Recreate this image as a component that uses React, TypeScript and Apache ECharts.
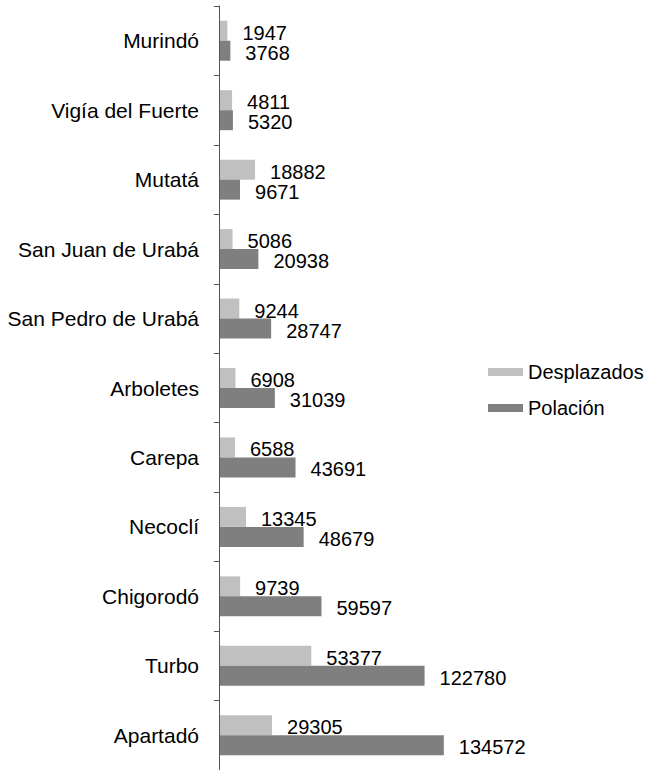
import React, { useEffect, useRef } from "react";
import * as echarts from "echarts";

const categories = [
  "Murindó",
  "Vigía del Fuerte",
  "Mutatá",
  "San Juan de Urabá",
  "San Pedro de Urabá",
  "Arboletes",
  "Carepa",
  "Necoclí",
  "Chigorodó",
  "Turbo",
  "Apartadó",
];
const desplazados = [1947, 4811, 18882, 5086, 9244, 6908, 6588, 13345, 9739, 53377, 29305];
const polacion = [3768, 5320, 9671, 20938, 28747, 31039, 43691, 48679, 59597, 122780, 134572];
const seriesNames = ["Desplazados", "Polación"];

const FONT = "Liberation Sans, Arial, Helvetica, sans-serif";

export default function App() {
  const ref = useRef<HTMLDivElement>(null);
  useEffect(() => {
    if (!ref.current) return;
    const chart = echarts.init(ref.current, null, { renderer: "svg" });
    const label = {
      show: true,
      position: "right" as const,
      distance: 15,
      offset: [0, 2],
      color: "#000",
      fontSize: 20,
      fontFamily: FONT,
    };
    chart.setOption({
      animation: false,
      backgroundColor: "#fff",
      textStyle: { fontFamily: FONT },
      legend: {
        orient: "vertical",
        left: 483,
        top: 357,
        itemWidth: 35,
        itemHeight: 8,
        itemGap: 16,
        icon: "rect",
        textStyle: { fontSize: 20, color: "#000", fontFamily: FONT, lineHeight: 20 },
        data: seriesNames,
      },
      grid: { left: 219, top: 6, width: 250, height: 770 },
      xAxis: {
        type: "value",
        min: -3200,
        max: 150000,
        startValue: -3200,
        show: false,
      },
      yAxis: {
        type: "category",
        inverse: true,
        z: 10,
        data: categories,
        axisLine: { show: true, onZero: false, lineStyle: { color: "#555", width: 1 } },
        axisTick: { show: true, length: 5, lineStyle: { color: "#555" } },
        axisLabel: { margin: 20, fontSize: 21, color: "#000", fontFamily: FONT },
      },
      series: [
        {
          name: seriesNames[0],
          type: "bar",
          data: desplazados,
          barWidth: 20,
          barGap: "0%",
          itemStyle: { color: "#c0c0c0" },
          label,
        },
        {
          name: seriesNames[1],
          type: "bar",
          data: polacion,
          barWidth: 20,
          barGap: "0%",
          itemStyle: { color: "#7f7f7f" },
          label,
        },
      ],
    });
    return () => chart.dispose();
  }, []);
  return (
    <div
      ref={ref}
      style={{ position: "absolute", left: 0, top: 0, width: 652, height: 770 }}
    />
  );
}
